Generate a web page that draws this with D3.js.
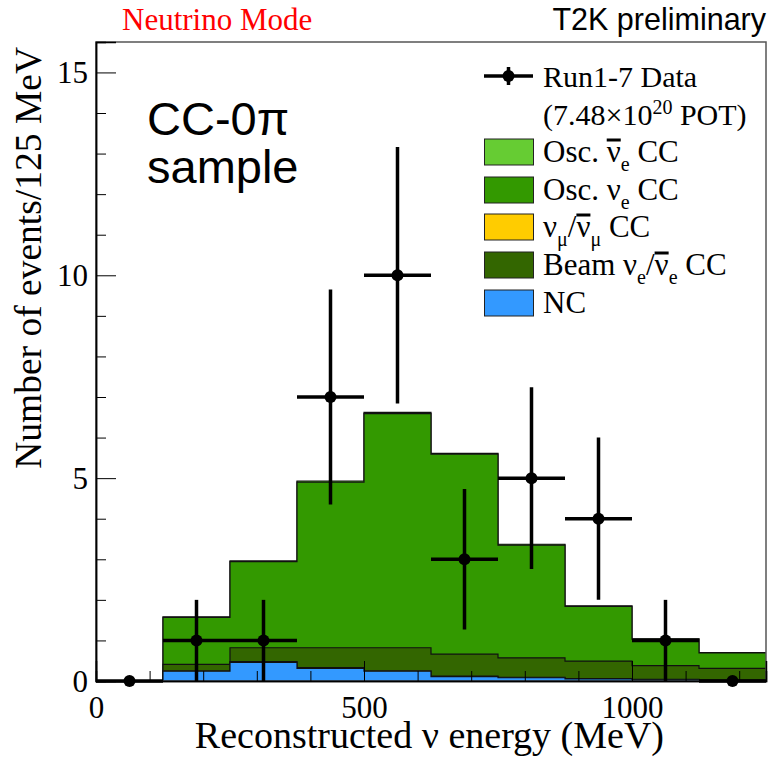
<!DOCTYPE html>
<html>
<head>
<meta charset="utf-8">
<script src="https://cdn.jsdelivr.net/npm/d3@7"></script>
<style>
  body { margin: 0; background: #fff; }
  text { font-family: "Liberation Serif", "Times New Roman", serif; }
</style>
</head>
<body>
<svg id="chart" width="768" height="761"></svg>
<script>
// bins of reconstructed energy (MeV), lower edges
var binLow = [0, 125, 250, 375, 500, 625, 750, 875, 1000, 1125];
var binWidth = 125;

// MC predictions per bin (stack order, bottom -> top)
var ncEvents       = [0, 0.24, 0.46, 0.31, 0.24, 0.11, 0.08, 0.05, 0.03, 0.02];
var numuEvents     = [0, 0.01, 0.02, 0.02, 0.01, 0.01, 0.01, 0.01, 0.01, 0.00];
var beamNueEvents  = [0, 0.16, 0.34, 0.49, 0.57, 0.54, 0.48, 0.43, 0.34, 0.29];
var oscNueEvents   = [0, 1.16, 2.12, 4.08, 5.77, 4.93, 2.78, 1.35, 0.65, 0.38];
var oscNuebarEvents= [0, 0.01, 0.02, 0.03, 0.03, 0.02, 0.02, 0.01, 0.01, 0.01];

// observed data
var dataCounts  = [0, 1, 1, 7, 10, 3, 5, 4, 1, 0];
var dataErrLow  = [0, 1, 1, 2.65, 3.16, 1.73, 2.24, 2, 1, 0];
var dataErrHigh = [0, 1, 1, 2.65, 3.16, 1.73, 2.24, 2, 1, 0];

var xTicks = [0, 500, 1000];
var xMinorTicks = [100, 200, 300, 400, 600, 700, 800, 900, 1100, 1200];
var yTicks = [0, 5, 10, 15];
var yMinorTicks = [1, 2, 3, 4, 6, 7, 8, 9, 11, 12, 13, 14];

var keys = ['nc', 'numu', 'beam', 'oscNue', 'oscNuebar'];
var colors = {
    nc: '#3399ff',
    numu: '#ffcc00',
    beam: '#336600',
    oscNue: '#339900',
    oscNuebar: '#66cc33'
};

var rows = binLow.map(function(b, i) {
    return {
        low: b,
        nc: ncEvents[i],
        numu: numuEvents[i],
        beam: beamNueEvents[i],
        oscNue: oscNueEvents[i],
        oscNuebar: oscNuebarEvents[i]
    };
});

var padL = 96, padR = 766, padT = 42, padB = 681;

var svg = d3.select('#chart');

var x = d3.scaleLinear().domain([0, 1250]).range([padL, padR]);
var y = d3.scaleLinear().domain([0, 15.75]).range([padB, padT]);

// stacked histograms
var stacked = d3.stack().keys(keys)(rows);

var area = d3.area()
    .curve(d3.curveStepAfter)
    .x(function(d) { return d[0]; })
    .y0(y(0))
    .y1(function(d) { return d[1]; });
var line = d3.line()
    .curve(d3.curveStepAfter)
    .x(function(d) { return d[0]; })
    .y(function(d) { return d[1]; });

var hist = svg.append('g');
stacked.slice().reverse().forEach(function(layer) {
    var pts = layer.map(function(d, i) { return [x(binLow[i]), y(d[1])]; });
    pts.push([x(binLow[binLow.length - 1] + binWidth), y(layer[layer.length - 1][1])]);
    hist.append('path')
        .attr('d', area(pts))
        .attr('fill', colors[layer.key])
        .attr('stroke', 'none');
    hist.append('path')
        .attr('d', line(pts))
        .attr('fill', 'none')
        .attr('stroke', '#111')
        .attr('stroke-width', 1.2);
});

// frame
svg.append('rect')
    .attr('x', padL).attr('y', padT)
    .attr('width', padR - padL).attr('height', padB - padT)
    .attr('fill', 'none')
    .attr('stroke', '#555')
    .attr('stroke-width', 1.5);

// axes
var yAxis = svg.append('g')
    .attr('transform', 'translate(' + padL + ',0)')
    .call(d3.axisLeft(y).tickValues(yTicks).tickSize(-20).tickFormat(d3.format('d')));
svg.append('g')
    .attr('transform', 'translate(' + padL + ',0)')
    .call(d3.axisLeft(y).tickValues(yMinorTicks).tickSize(-10).tickFormat(''));
var xAxis = svg.append('g')
    .attr('transform', 'translate(0,' + padB + ')')
    .call(d3.axisBottom(x).tickValues(xTicks).tickSize(-20).tickFormat(d3.format('d')));
svg.append('g')
    .attr('transform', 'translate(0,' + padB + ')')
    .call(d3.axisBottom(x).tickValues(xMinorTicks).tickSize(-10).tickFormat(''));

svg.selectAll('.domain').attr('stroke', '#000').attr('stroke-width', 1.5);
svg.selectAll('.tick line').attr('stroke', '#000').attr('stroke-width', 1);
svg.selectAll('.tick text')
    .attr('font-family', '"Liberation Serif", serif')
    .attr('font-size', 31)
    .attr('fill', '#000');
yAxis.selectAll('.tick text').attr('x', -8).attr('dy', 0).attr('y', 10);
xAxis.selectAll('.tick text').attr('y', 37).attr('dy', 0);

// data points
var dataG = svg.append('g');
dataCounts.forEach(function(n, i) {
    var cx = x(binLow[i] + binWidth / 2);
    dataG.append('line')
        .attr('x1', x(binLow[i])).attr('x2', x(binLow[i] + binWidth))
        .attr('y1', y(n)).attr('y2', y(n))
        .attr('stroke', '#000').attr('stroke-width', 3.5);
    if (dataErrHigh[i] > 0) {
        dataG.append('line')
            .attr('x1', cx).attr('x2', cx)
            .attr('y1', y(n + dataErrHigh[i])).attr('y2', y(n - dataErrLow[i]))
            .attr('stroke', '#000').attr('stroke-width', 3.5);
    }
    dataG.append('circle')
        .attr('cx', cx).attr('cy', y(n)).attr('r', 6)
        .attr('fill', '#000');
});

// axis titles
svg.append('text')
    .attr('transform', 'translate(41,47) rotate(-90)')
    .attr('text-anchor', 'end')
    .attr('font-size', 37.5)
    .text('Number of events/125 MeV');
svg.append('text')
    .attr('x', 664).attr('y', 748)
    .attr('text-anchor', 'end')
    .attr('font-size', 38)
    .text('Reconstructed \u03bd energy (MeV)');

// header texts
svg.append('text')
    .attr('x', 122).attr('y', 30)
    .attr('font-size', 31)
    .attr('fill', '#ff0000')
    .text('Neutrino Mode');
svg.append('text')
    .attr('x', 766).attr('y', 30)
    .attr('text-anchor', 'end')
    .attr('font-size', 30.5)
    .style('font-family', '"Liberation Sans", Arial, sans-serif')
    .text('T2K preliminary');

svg.append('text')
    .attr('x', 147).attr('y', 135)
    .attr('font-size', 47)
    .style('font-family', '"Liberation Sans", Arial, sans-serif')
    .text('CC-0\u03c0');
svg.append('text')
    .attr('x', 147).attr('y', 183)
    .attr('font-size', 47)
    .style('font-family', '"Liberation Sans", Arial, sans-serif')
    .text('sample');

// legend
var leg = svg.append('g');
leg.append('line')
    .attr('x1', 484).attr('x2', 533).attr('y1', 76).attr('y2', 76)
    .attr('stroke', '#000').attr('stroke-width', 3.5);
leg.append('line')
    .attr('x1', 508.5).attr('x2', 508.5).attr('y1', 67).attr('y2', 85)
    .attr('stroke', '#000').attr('stroke-width', 3.5);
leg.append('circle').attr('cx', 508.5).attr('cy', 76).attr('r', 6).attr('fill', '#000');
leg.append('text').attr('x', 543).attr('y', 87).attr('font-size', 30).text('Run1-7 Data');
var pot = leg.append('text').attr('x', 543).attr('y', 125).attr('font-size', 30);
pot.append('tspan').text('(7.48\u00d710');
pot.append('tspan').attr('dy', -11).attr('font-size', 20).text('20');
pot.append('tspan').attr('dy', 11).text(' POT)');

var legendItems = [
    { key: 'oscNuebar', parts: [['Osc. '], ['\u03bd', 'bar'], ['e', 'sub'], [' CC']] },
    { key: 'oscNue', parts: [['Osc. '], ['\u03bd'], ['e', 'sub'], [' CC']] },
    { key: 'numu', parts: [['\u03bd'], ['\u03bc', 'sub'], ['/'], ['\u03bd', 'bar'], ['\u03bc', 'sub'], [' CC']] },
    { key: 'beam', parts: [['Beam '], ['\u03bd'], ['e', 'sub'], ['/'], ['\u03bd', 'bar'], ['e', 'sub'], [' CC']] },
    { key: 'nc', parts: [['NC']] }
];
var legTops = [139, 177, 214, 252, 290];

legendItems.forEach(function(item, i) {
    leg.append('rect')
        .attr('x', 484.5).attr('y', legTops[i])
        .attr('width', 49).attr('height', 26)
        .attr('fill', colors[item.key])
        .attr('stroke', '#222').attr('stroke-width', 1);
    var base = legTops[i] + 23;
    var t = leg.append('text')
        .attr('x', 543).attr('y', base)
        .attr('font-size', 31);
    var shift = 0, idx = 0, bars = [];
    item.parts.forEach(function(p) {
        var ts = t.append('tspan').text(p[0]);
        if (p[1] === 'sub') {
            ts.attr('font-size', 20).attr('dy', 9 - shift);
            shift = 9;
        } else {
            if (shift !== 0) { ts.attr('dy', -shift); shift = 0; }
            if (p[1] === 'bar') bars.push(idx);
        }
        idx += p[0].length;
    });
    // overline on anti-neutrino symbols
    var node = t.node();
    bars.forEach(function(ci) {
        var s = node.getStartPositionOfChar(ci);
        var e = node.getEndPositionOfChar(ci);
        leg.append('line')
            .attr('x1', s.x).attr('x2', e.x)
            .attr('y1', base - 22).attr('y2', base - 22)
            .attr('stroke', '#000').attr('stroke-width', 3);
    });
});
</script>
</body>
</html>
